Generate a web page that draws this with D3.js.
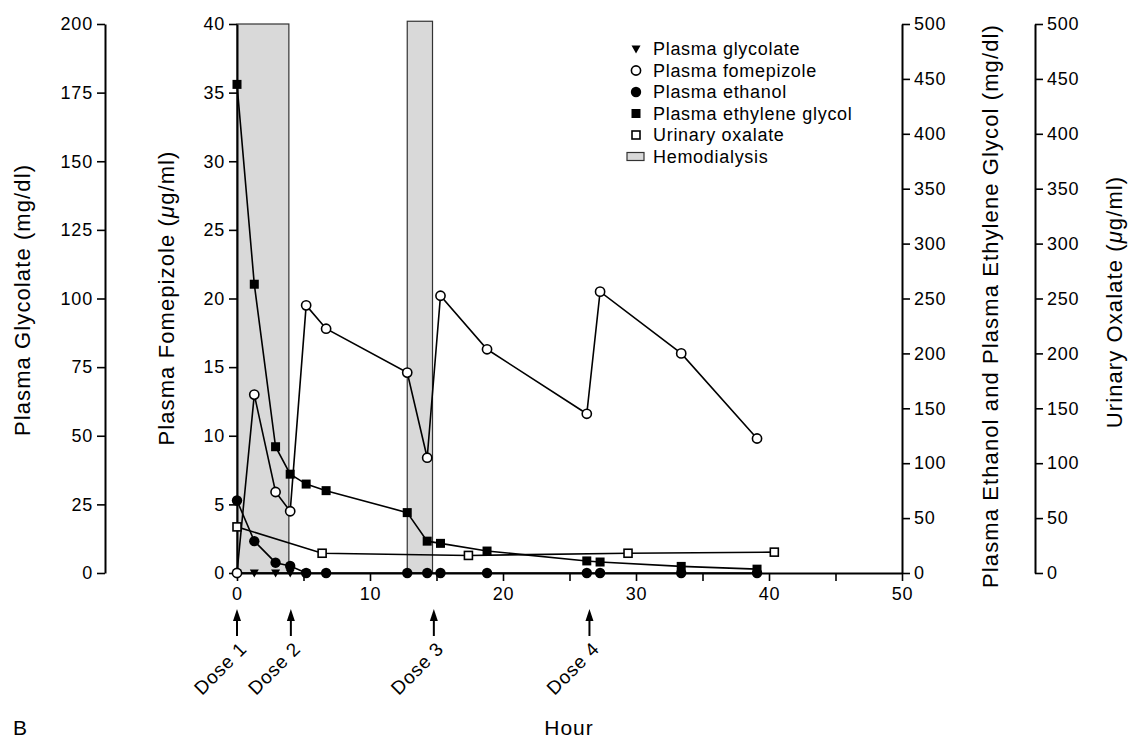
<!DOCTYPE html>
<html>
<head>
<meta charset="utf-8">
<script src="https://cdn.jsdelivr.net/npm/d3@7"></script>
<style>
  body { margin: 0; background: #fff; }
  svg { display: block; font-family: "Liberation Sans", Arial, sans-serif; }
</style>
</head>
<body>
<div id="container"></div>
<script>
"use strict";

// sampling times (hours) shared by the plasma series
const hours = [0, 1.3, 2.9, 4.0, 5.2, 6.7, 12.8, 14.3, 15.3, 18.8, 26.3, 27.3, 33.4, 39.1];

const fomepizole = [0, 13.0, 5.9, 4.5, 19.5, 17.8, 14.6, 8.4, 20.2, 16.3, 11.6, 20.5, 16.0, 9.8];
const ethyleneGlycol = [445, 263, 115, 90, 81, 75, 55, 29, 27, 20, 11, 10, 6, 3.5];
const ethanol = [66, 29, 9.4, 6.4, 0, 0, 0, 0, 0, 0, 0, 0, 0, 0];

const glycolateHours = [0, 1.3, 2.9, 4.0, 5.2];
const glycolate = [0, 0, 0, 0, 0];

const oxalateHours = [0, 6.4, 17.4, 29.4, 40.4];
const oxalate = [42, 18, 16, 18, 19];

const hemodialysis = [
  { start: 0, end: 3.9, top: 40 },
  { start: 12.8, end: 14.7, top: 40.2 },
];

const doses = [
  { hour: 0, label: "Dose 1" },
  { hour: 4.05, label: "Dose 2" },
  { hour: 14.8, label: "Dose 3" },
  { hour: 26.5, label: "Dose 4" },
];

const hourTicks = d3.range(0, 51, 5);
const glycolateTicks = d3.range(0, 201, 25);
const fomepizoleTicks = d3.range(0, 41, 5);
const mgTicks = d3.range(0, 501, 50);

const legendItems = [
  { key: "triangle", label: "Plasma glycolate" },
  { key: "openCircle", label: "Plasma fomepizole" },
  { key: "circle", label: "Plasma ethanol" },
  { key: "square", label: "Plasma ethylene glycol" },
  { key: "openSquare", label: "Urinary oxalate" },
  { key: "bar", label: "Hemodialysis" },
];

const width = 1133;
const height = 743;
const plotLeft = 237;
const plotRight = 902;
const plotTop = 24;
const plotBottom = 573;

const tickFont = "18px";
const tickSpacing = "0.8px";
const titleFont = "22px";
const titleSpacing = "1.1px";

function drawMarker(g, key, cx, cy) {
  if (key === "circle") {
    g.append("circle").attr("cx", cx).attr("cy", cy).attr("r", 5.2).attr("fill", "#000");
  } else if (key === "openCircle") {
    g.append("circle").attr("cx", cx).attr("cy", cy).attr("r", 4.6)
      .attr("fill", "#fff").attr("stroke", "#000").attr("stroke-width", 1.6);
  } else if (key === "square") {
    g.append("rect").attr("x", cx - 4.5).attr("y", cy - 4.5).attr("width", 9).attr("height", 9).attr("fill", "#000");
  } else if (key === "openSquare") {
    g.append("rect").attr("x", cx - 4).attr("y", cy - 4).attr("width", 8).attr("height", 8)
      .attr("fill", "#fff").attr("stroke", "#000").attr("stroke-width", 1.6);
  } else if (key === "triangle") {
    g.append("path").attr("d", `M${cx - 4.5},${cy - 3.5}L${cx + 4.5},${cy - 3.5}L${cx},${cy + 4.5}Z`).attr("fill", "#000");
  }
}

function styleAxis(g) {
  g.select(".domain").attr("stroke-width", 2);
  g.selectAll(".tick line").attr("stroke-width", 1.6);
  g.selectAll(".tick text")
    .attr("font-family", "Liberation Sans, Arial, sans-serif")
    .style("font-size", tickFont)
    .style("letter-spacing", tickSpacing)
    .attr("fill", "#000");
}

function plotGraph() {
  const svg = d3
    .select("#container")
    .append("svg")
    .attr("width", width)
    .attr("height", height);

  svg.append("rect").attr("width", width).attr("height", height).attr("fill", "#fff");

  const x = d3.scaleLinear().domain([0, 50]).range([plotLeft, plotRight]);
  const yFome = d3.scaleLinear().domain([0, 40]).range([plotBottom, plotTop]);
  const yGly = d3.scaleLinear().domain([0, 200]).range([plotBottom, plotTop]);
  const yMg = d3.scaleLinear().domain([0, 500]).range([plotBottom, plotTop]);
  const yOx = d3.scaleLinear().domain([0, 500]).range([plotBottom, plotTop]);

  // hemodialysis periods
  svg
    .selectAll(".hd")
    .data(hemodialysis)
    .enter()
    .append("rect")
    .attr("class", "hd")
    .attr("x", d => x(d.start))
    .attr("y", d => yFome(d.top))
    .attr("width", d => x(d.end) - x(d.start))
    .attr("height", d => yFome(0) - yFome(d.top))
    .attr("fill", "#d9d9d9")
    .attr("stroke", "#333")
    .attr("stroke-width", 1.2);

  // axes
  svg.append("g")
    .attr("transform", `translate(105,0)`)
    .call(d3.axisLeft(yGly).tickValues(glycolateTicks).tickSize(8).tickSizeOuter(0).tickPadding(4))
    .call(styleAxis);

  svg.append("g")
    .attr("transform", `translate(${plotLeft},0)`)
    .call(d3.axisLeft(yFome).tickValues(fomepizoleTicks).tickSize(8).tickSizeOuter(0).tickPadding(4))
    .call(styleAxis);

  svg.append("g")
    .attr("transform", `translate(${plotRight},0)`)
    .call(d3.axisRight(yMg).tickValues(mgTicks).tickSize(8).tickSizeOuter(0).tickPadding(4))
    .call(styleAxis);

  svg.append("g")
    .attr("transform", `translate(1035,0)`)
    .call(d3.axisRight(yOx).tickValues(mgTicks).tickSize(8).tickSizeOuter(0).tickPadding(4))
    .call(styleAxis);

  svg.append("g")
    .attr("transform", `translate(0,${plotBottom})`)
    .call(d3.axisBottom(x).tickValues(hourTicks).tickSize(8).tickSizeOuter(0).tickPadding(6)
      .tickFormat(d => (d % 10 === 0 ? d : "")))
    .call(styleAxis);

  // series
  const series = [
    { key: "triangle", xs: glycolateHours, ys: glycolate, y: yGly },
    { key: "openSquare", xs: oxalateHours, ys: oxalate, y: yOx },
    { key: "circle", xs: hours, ys: ethanol, y: yMg },
    { key: "square", xs: hours, ys: ethyleneGlycol, y: yMg },
    { key: "openCircle", xs: hours, ys: fomepizole, y: yFome },
  ];

  series.forEach(s => {
    const pts = s.xs.map((h, i) => [x(h), s.y(s.ys[i])]);
    svg.append("path")
      .attr("d", d3.line()(pts))
      .attr("fill", "none")
      .attr("stroke", "#000")
      .attr("stroke-width", 1.6);
  });

  series.forEach(s => {
    const g = svg.append("g");
    s.xs.forEach((h, i) => drawMarker(g, s.key, x(h), s.y(s.ys[i])));
  });

  // legend
  const legend = svg.append("g").attr("transform", "translate(636,49)");
  legendItems.forEach((item, i) => {
    const g = legend.append("g").attr("transform", `translate(0,${i * 21.5})`);
    if (item.key === "bar") {
      g.append("rect").attr("x", -9).attr("y", -4).attr("width", 17).attr("height", 8)
        .attr("fill", "#d9d9d9").attr("stroke", "#333").attr("stroke-width", 1.2);
    } else {
      drawMarker(g, item.key, 0, 0);
    }
    g.append("text")
      .attr("x", 17)
      .attr("y", 0)
      .attr("dy", "0.35em")
      .style("font-size", tickFont)
      .style("letter-spacing", "0.7px")
      .text(item.label);
  });

  // dose arrows
  const doseG = svg.append("g");
  doses.forEach(d => {
    const cx = x(d.hour);
    doseG.append("line")
      .attr("x1", cx).attr("x2", cx).attr("y1", 618).attr("y2", 636)
      .attr("stroke", "#000").attr("stroke-width", 2);
    doseG.append("path")
      .attr("d", `M${cx},609L${cx + 4},621L${cx - 4},621Z`)
      .attr("fill", "#000");
    doseG.append("text")
      .attr("transform", `translate(${cx + 11},650) rotate(-45)`)
      .attr("text-anchor", "end")
      .style("font-size", "19px")
      .style("letter-spacing", "0.8px")
      .text(d.label);
  });

  // axis titles
  const vTitle = (tx, ty, parts) => {
    const t = svg.append("text")
      .attr("transform", `translate(${tx},${ty}) rotate(-90)`)
      .attr("text-anchor", "middle")
      .style("font-size", titleFont)
      .style("letter-spacing", titleSpacing);
    parts.forEach(p => {
      const span = t.append("tspan").text(p.text);
      if (p.italic) span.style("font-style", "italic");
    });
  };

  vTitle(30, 300, [{ text: "Plasma Glycolate (mg/dl)" }]);
  vTitle(174, 298, [{ text: "Plasma Fomepizole (" }, { text: "μ", italic: true }, { text: "g/ml)" }]);
  vTitle(998, 306, [{ text: "Plasma Ethanol and Plasma Ethylene Glycol (mg/dl)" }]);
  vTitle(1122, 302, [{ text: "Urinary Oxalate (" }, { text: "μ", italic: true }, { text: "g/ml)" }]);

  svg.append("text")
    .attr("x", 569)
    .attr("y", 735)
    .attr("text-anchor", "middle")
    .style("font-size", "21px")
    .style("letter-spacing", "1px")
    .text("Hour");

  svg.append("text")
    .attr("x", 13)
    .attr("y", 735)
    .style("font-size", "21px")
    .text("B");
}

plotGraph();
</script>
</body>
</html>
